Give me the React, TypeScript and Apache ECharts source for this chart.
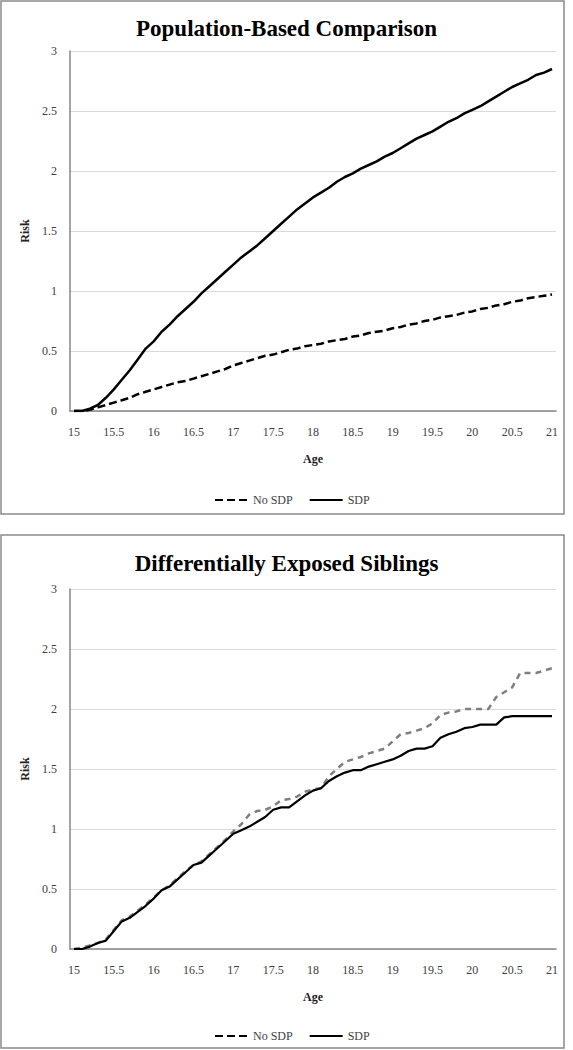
import React, { useEffect, useRef } from "react";
import * as echarts from "echarts";

const ages = [
  "15", "15.1", "15.2", "15.3", "15.4", "15.5", "15.6", "15.7", "15.8", "15.9",
  "16", "16.1", "16.2", "16.3", "16.4", "16.5", "16.6", "16.7", "16.8", "16.9",
  "17", "17.1", "17.2", "17.3", "17.4", "17.5", "17.6", "17.7", "17.8", "17.9",
  "18", "18.1", "18.2", "18.3", "18.4", "18.5", "18.6", "18.7", "18.8", "18.9",
  "19", "19.1", "19.2", "19.3", "19.4", "19.5", "19.6", "19.7", "19.8", "19.9",
  "20", "20.1", "20.2", "20.3", "20.4", "20.5", "20.6", "20.7", "20.8", "20.9",
  "21",
];

const popNoSdp = [
  0, 0, 0.01, 0.03, 0.05, 0.07, 0.09, 0.11, 0.14, 0.16,
  0.18, 0.2, 0.22, 0.24, 0.25, 0.27, 0.29, 0.31, 0.33, 0.35,
  0.38, 0.4, 0.42, 0.44, 0.46, 0.47, 0.49, 0.51, 0.52, 0.54,
  0.55, 0.56, 0.58, 0.59, 0.6, 0.62, 0.63, 0.65, 0.66, 0.67,
  0.69, 0.7, 0.72, 0.73, 0.75, 0.76, 0.78, 0.79, 0.8, 0.82,
  0.83, 0.85, 0.86, 0.88, 0.89, 0.91, 0.92, 0.94, 0.95, 0.96,
  0.97,
];

const popSdp = [
  0, 0, 0.02, 0.05, 0.11, 0.18, 0.26, 0.34, 0.43, 0.52,
  0.58, 0.66, 0.72, 0.79, 0.85, 0.91, 0.98, 1.04, 1.1, 1.16,
  1.22, 1.28, 1.33, 1.38, 1.44, 1.5, 1.56, 1.62, 1.68, 1.73,
  1.78, 1.82, 1.86, 1.91, 1.95, 1.98, 2.02, 2.05, 2.08, 2.12,
  2.15, 2.19, 2.23, 2.27, 2.3, 2.33, 2.37, 2.41, 2.44, 2.48,
  2.51, 2.54, 2.58, 2.62, 2.66, 2.7, 2.73, 2.76, 2.8, 2.82,
  2.85,
];

const sibNoSdp = [
  0, 0.01, 0.03, 0.05, 0.08, 0.16, 0.24, 0.27, 0.32, 0.37,
  0.43, 0.49, 0.53, 0.59, 0.65, 0.7, 0.73, 0.79, 0.85, 0.91,
  0.98, 1.04, 1.12, 1.15, 1.16, 1.19, 1.24, 1.25, 1.27, 1.31,
  1.33, 1.34, 1.44, 1.5, 1.56, 1.58, 1.6, 1.63, 1.65, 1.67,
  1.73, 1.79, 1.8, 1.82, 1.84, 1.88, 1.95, 1.97, 1.98, 2.0,
  2.0, 2.0, 2.0, 2.1, 2.14, 2.18, 2.3, 2.3, 2.3, 2.32,
  2.34,
];

const sibSdp = [
  0, 0, 0.02, 0.05, 0.07, 0.15, 0.23, 0.26, 0.31, 0.36,
  0.42, 0.49, 0.52, 0.58, 0.64, 0.7, 0.72, 0.78, 0.84, 0.9,
  0.96, 0.99, 1.02, 1.06, 1.1, 1.16, 1.18, 1.18, 1.23, 1.28,
  1.32, 1.34, 1.4, 1.44, 1.47, 1.49, 1.49, 1.52, 1.54, 1.56,
  1.58, 1.61, 1.65, 1.67, 1.67, 1.69, 1.76, 1.79, 1.81, 1.84,
  1.85, 1.87, 1.87, 1.87, 1.93, 1.94, 1.94, 1.94, 1.94, 1.94,
  1.94,
];

const titles = ["Population-Based Comparison", "Differentially Exposed Siblings"];
const legendNames = ["No SDP", "SDP"];

const FONT = "Liberation Serif";
const TEXT = "#404040";

export default function App() {
  const ref = useRef<HTMLDivElement>(null);
  useEffect(() => {
    document.body.style.margin = "0";
    const chart = echarts.init(ref.current!, undefined, { renderer: "svg" });
    const gridTops = [51, 589];
    const xAxis = gridTops.map((_, i) => ({
      type: "category",
      gridIndex: i,
      data: ages,
      boundaryGap: true,
      name: "Age",
      nameLocation: "middle",
      nameGap: 42,
      nameTextStyle: { fontFamily: FONT, fontWeight: "bold", fontSize: 12, color: "#222" },
      axisLine: { show: true, lineStyle: { color: "#868686", width: 1.5 } },
      axisTick: { show: false },
      axisLabel: { interval: 4, margin: 15, fontFamily: FONT, fontSize: 12, color: TEXT },
      splitLine: { show: false },
    }));
    const yAxis = gridTops.map((_, i) => ({
      type: "value",
      gridIndex: i,
      min: 0,
      max: 3,
      interval: 0.5,
      name: "Risk",
      nameLocation: "middle",
      nameGap: 38,
      nameTextStyle: { fontFamily: FONT, fontWeight: "bold", fontSize: 12, color: "#222" },
      axisLine: { show: true, lineStyle: { color: "#868686", width: 1.5 } },
      axisTick: { show: false },
      axisLabel: { margin: 13, fontFamily: FONT, fontSize: 12, color: TEXT },
      splitLine: { show: true, lineStyle: { color: "#d9d9d9", width: 1.2 } },
    }));
    const mk = (name: string, data: number[], idx: number, color: string, width: number, type: any) => ({
      type: "line",
      name,
      xAxisIndex: idx,
      yAxisIndex: idx,
      data,
      symbol: "none",
      showSymbol: false,
      lineStyle: { color, width, type },
      itemStyle: { color },
    });
    chart.setOption({
      animation: false,
      backgroundColor: "#fff",
      textStyle: { fontFamily: FONT },
      title: titles.map((t, i) => ({
        text: t,
        left: "center",
        top: i === 0 ? 12 : 547,
        textStyle: { fontFamily: FONT, fontWeight: "bold", fontSize: 23, color: "#000" },
      })),
      grid: gridTops.map((t) => ({ left: 70, width: 486, top: t, height: 360 })),
      xAxis,
      yAxis,
      legend: [489, 1025].map((top) => ({
        top,
        left: 209,
        itemWidth: 33,
        itemHeight: 14,
        itemGap: 16,
        itemStyle: { opacity: 0 },
        textStyle: { fontFamily: FONT, fontSize: 12, color: TEXT },
        data: legendNames.map((n) => ({ name: n })),
      })),
      series: [
        mk(legendNames[0], popNoSdp, 0, "#000", 2.5, [8, 4]),
        mk(legendNames[1], popSdp, 0, "#000", 2.5, "solid"),
        mk(legendNames[0], sibNoSdp, 1, "#7f7f7f", 2.5, [6, 5]),
        mk(legendNames[1], sibSdp, 1, "#000", 2.2, "solid"),
      ],
      graphic: [
        { type: "rect", shape: { x: 1, y: 1, width: 563, height: 513 }, style: { fill: "none", stroke: "#8a8a8a", lineWidth: 1.5 }, silent: true },
        { type: "rect", shape: { x: 1, y: 535, width: 563, height: 513 }, style: { fill: "none", stroke: "#8a8a8a", lineWidth: 1.5 }, silent: true },
      ],
    });
    return () => chart.dispose();
  }, []);
  return <div ref={ref} style={{ position: "absolute", left: 0, top: 0, width: 573, height: 1050 }} />;
}
